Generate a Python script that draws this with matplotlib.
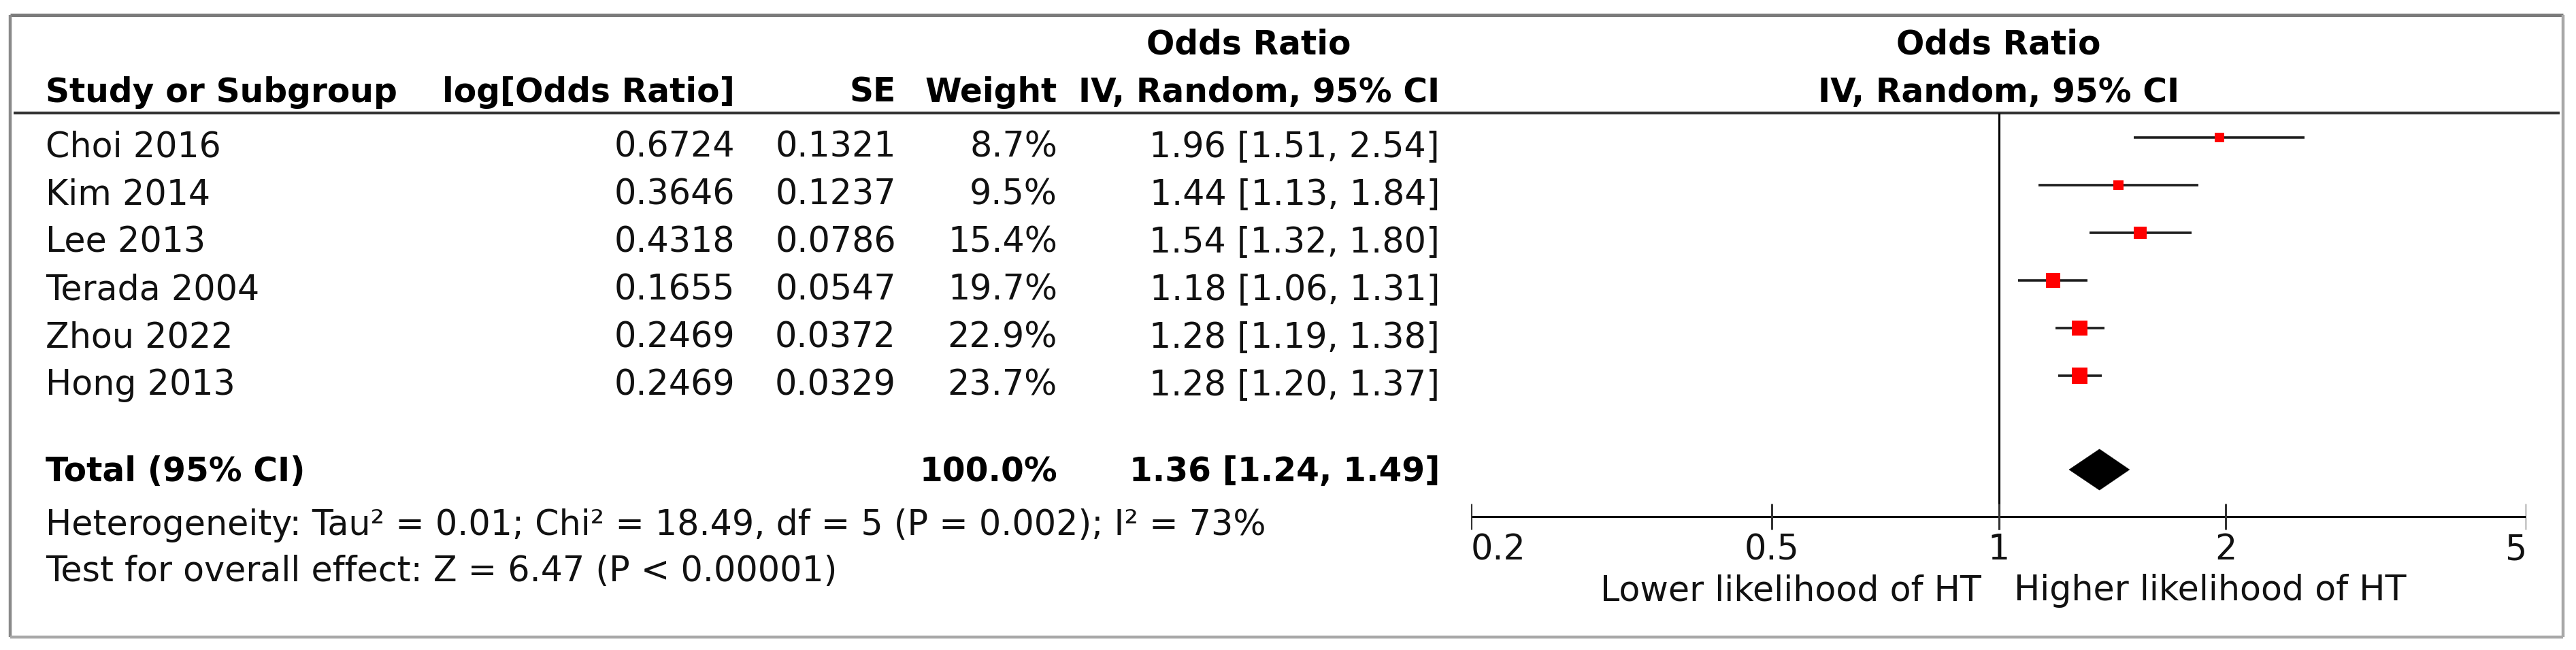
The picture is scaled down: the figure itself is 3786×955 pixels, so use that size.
import numpy as np
import matplotlib
matplotlib.use("Agg")
import matplotlib.pyplot as plt
from matplotlib.patches import Polygon

# Study data
studies = ["Choi 2016", "Kim 2014", "Lee 2013", "Terada 2004", "Zhou 2022", "Hong 2013"]
log_or = [0.6724, 0.3646, 0.4318, 0.1655, 0.2469, 0.2469]
se = [0.1321, 0.1237, 0.0786, 0.0547, 0.0372, 0.0329]
weight = [8.7, 9.5, 15.4, 19.7, 22.9, 23.7]
or_est = [1.96, 1.44, 1.54, 1.18, 1.28, 1.28]
ci_low = [1.51, 1.13, 1.32, 1.06, 1.19, 1.20]
ci_high = [2.54, 1.84, 1.80, 1.31, 1.38, 1.37]

total_or = 1.36
total_low = 1.24
total_high = 1.49
total_weight = 100.0

heterogeneity = "Heterogeneity: Tau² = 0.01; Chi² = 18.49, df = 5 (P = 0.002); I² = 73%"
overall = "Test for overall effect: Z = 6.47 (P < 0.00001)"

x_ticks = [0.2, 0.5, 1, 2, 5]
x_tick_labels = ["0.2", "0.5", "1", "2", "5"]
left_label = "Lower likelihood of HT"
right_label = "Higher likelihood of HT"

# Layout in pixels
W, H = 3786, 955
FS_BOLD = 35
FS_REG = 36.5
plt.rcParams["font.family"] = "DejaVu Sans"

fig = plt.figure(figsize=(W / 100, H / 100), dpi=100)
ax = fig.add_axes([0, 0, 1, 1])
ax.set_xlim(0, W)
ax.set_ylim(H, 0)
ax.axis("off")

# forest panel: log scale, x from 0.2 to 5
fx0, fx1 = 2162, 3713
fa = fig.add_axes([fx0 / W, 0, (fx1 - fx0) / W, 1])
fa.set_xscale("log")
fa.set_xlim(x_ticks[0], x_ticks[-1])
fa.set_ylim(H, 0)
fa.axis("off")

# outer frame
ax.plot([15, 3767], [22, 22], color="#7b7b7b", lw=3.6, solid_capstyle="butt")
ax.plot([15, 15], [22, 936], color="#8a8a8a", lw=3.2, solid_capstyle="butt")
ax.plot([15, 3767], [936, 936], color="#a8a8a8", lw=3.2, solid_capstyle="butt")
ax.plot([3767, 3767], [22, 936], color="#a8a8a8", lw=3.2, solid_capstyle="butt")

# header line
ax.plot([20, 3762], [166, 166], color="#333333", lw=3.0, solid_capstyle="butt")

# column positions
c_study = 67
c_logor = 1080
c_se = 1317
c_w = 1554
c_or = 2116

hdr1, hdr2 = 80, 150
row0, row_gap = 230, 70
mark_shift = 28

bold = dict(fontsize=FS_BOLD, fontweight="bold", va="baseline", color="black")
reg = dict(fontsize=FS_REG, va="baseline", color="#111111")

ax.text(1835, hdr1, "Odds Ratio", ha="center", **bold)
ax.text(c_study, hdr2, "Study or Subgroup", ha="left", **bold)
ax.text(c_logor, hdr2, "log[Odds Ratio]", ha="right", **bold)
ax.text(c_se, hdr2, "SE", ha="right", **bold)
ax.text(c_w, hdr2, "Weight", ha="right", **bold)
ax.text(c_or, hdr2, "IV, Random, 95% CI", ha="right", **bold)

fa.text(1, hdr1, "Odds Ratio", ha="center", **bold)
fa.text(1, hdr2, "IV, Random, 95% CI", ha="center", **bold)

row_y = [row0 + i * row_gap for i in range(len(studies))]
for i, name in enumerate(studies):
    y = row_y[i]
    ax.text(c_study, y, name, ha="left", **reg)
    ax.text(c_logor, y, f"{log_or[i]:.4f}", ha="right", **reg)
    ax.text(c_se, y, f"{se[i]:.4f}", ha="right", **reg)
    ax.text(c_w, y, f"{weight[i]:.1f}%", ha="right", **reg)
    ax.text(c_or, y, f"{or_est[i]:.2f} [{ci_low[i]:.2f}, {ci_high[i]:.2f}]", ha="right", **reg)

total_y = 707
ax.text(c_study, total_y, "Total (95% CI)", ha="left", **bold)
ax.text(c_w, total_y, f"{total_weight:.1f}%", ha="right", **bold)
ax.text(c_or, total_y, f"{total_or:.2f} [{total_low:.2f}, {total_high:.2f}]", ha="right", **bold)

ax.text(c_study, 786, heterogeneity, ha="left", **reg)
ax.text(c_study, 854, overall, ha="left", **reg)

# forest marks
mark_y = [y - mark_shift for y in row_y]
fa.plot([1, 1], [166, 778], color="black", lw=2.2, solid_capstyle="butt")
fa.hlines(mark_y, ci_low, ci_high, color="#1e1e1e", lw=2.6)
side_px = 4.8 * np.sqrt(weight)
fa.scatter(or_est, mark_y, marker="s", s=(side_px * 0.72) ** 2,
           color="#ff0000", linewidths=0, zorder=3)

dy = total_y - 17
fa.add_patch(Polygon([(total_low, dy), (total_or, dy - 30), (total_high, dy), (total_or, dy + 30)],
                     closed=True, facecolor="black", edgecolor="black", lw=0.5))

# axis
axis_y = 759
fa.plot([x_ticks[0], x_ticks[-1]], [axis_y, axis_y], color="black", lw=2.2, solid_capstyle="butt")
fa.vlines(x_ticks, axis_y - 19, axis_y + 19, color="#333333", lw=2.2)
for i, (t, lab) in enumerate(zip(x_ticks, x_tick_labels)):
    ha = "left" if i == 0 else ("right" if i == len(x_ticks) - 1 else "center")
    fa.text(t, 822, lab, ha=ha, **reg)

fa.annotate(left_label, xy=(1, 882), xytext=(-26, 0), textcoords="offset pixels",
            ha="right", va="baseline", fontsize=FS_REG, color="#111111")
fa.annotate(right_label, xy=(1, 882), xytext=(22, 0), textcoords="offset pixels",
            ha="left", va="baseline", fontsize=FS_REG, color="#111111")

fig.savefig("out.png", dpi=100, facecolor="white")
